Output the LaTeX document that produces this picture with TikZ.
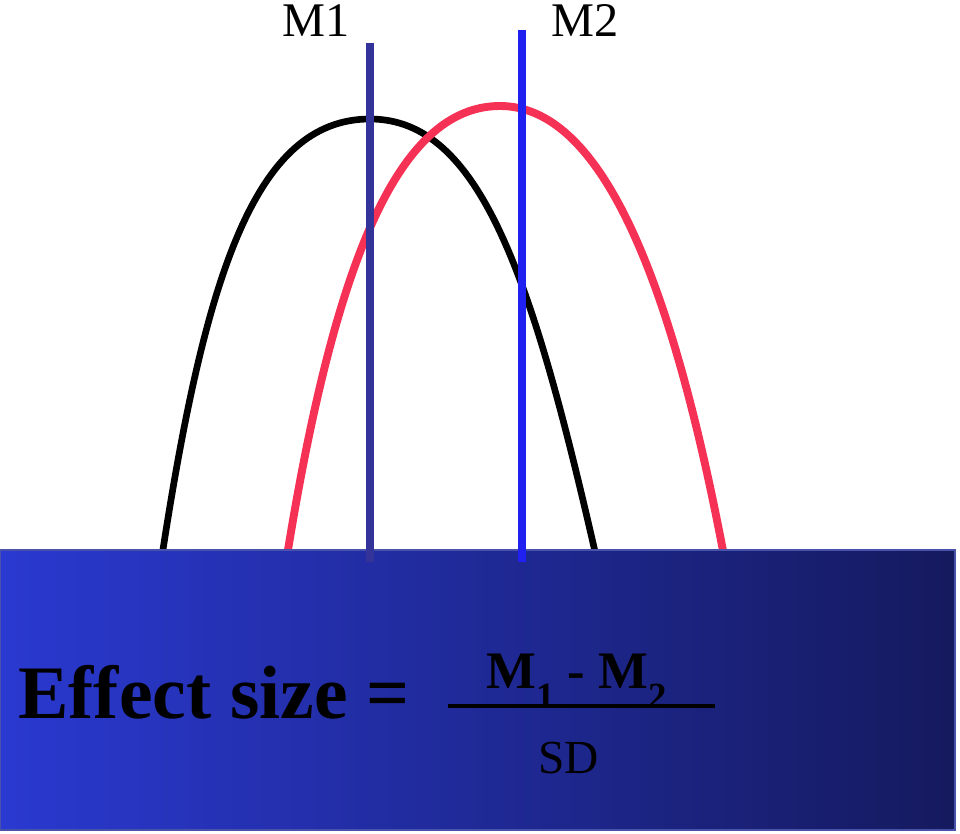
\documentclass[tikz,border=0pt]{standalone}
\usepackage{fontspec}
\setmainfont{Liberation Serif}
\usetikzlibrary{positioning}

\definecolor{meanone}{RGB}{51,51,153}
\definecolor{meantwo}{RGB}{32,32,240}
\definecolor{curvered}{RGB}{245,50,85}
\definecolor{boxleft}{RGB}{42,57,208}
\definecolor{boxmid}{RGB}{34,46,172}
\definecolor{boxright}{RGB}{21,26,94}
\definecolor{boxedge}{RGB}{72,82,170}

\tikzset{
    meanline/.style={line width=5pt},
    bellcurve/.style={line width=3.8pt, line join=round},
    label text/.style={inner sep=0pt, anchor=base west}
}

\begin{document}
\begin{tikzpicture}[x=0.02cm, y=-0.02cm]
    \useasboundingbox (0,0) rectangle (960,834);
    % the two distributions
    \coordinate(blackl) at (162,556);
    \coordinate(blackpeak) at (370,119);
    \coordinate(blackr) at (596,556);
    \coordinate(redl) at (287,556);
    \coordinate(redpeak) at (500,106);
    \coordinate(redr) at (724,556);
    \draw[bellcurve, black] (blackl) .. controls (205,276) and (255,119) .. (blackpeak)
        .. controls (480,119) and (532,276) .. (blackr);
    \draw[bellcurve, curvered, line width=4.5pt] (redl) .. controls (334,266) and (397,106) .. (redpeak)
        .. controls (598,106) and (669,266) .. (redr);
    % formula box
    \shade[left color=boxleft, middle color=boxmid, right color=boxright, draw=boxedge, line width=0.6pt] (0,550) rectangle (955,830);
    \begin{scope}[every node/.style={label text}]
        \node(m1) at (282,37) {\fontsize{27.5}{30}\selectfont M1};
        \node(m2) at (551,37) {\fontsize{27.5}{30}\selectfont M2};
        \node(effect) at (18,718) {\fontsize{43}{46}\selectfont\bfseries Effect size =};
        \node(num) at (486,688) {\fontsize{30}{32}\selectfont\bfseries M\raisebox{-11.5pt}{\fontsize{21}{22}\selectfont 1} - M\raisebox{-11.5pt}{\fontsize{21}{22}\selectfont 2}};
        \node(sd) at (538,773) {\fontsize{27}{30}\selectfont SD};
    \end{scope}
    \coordinate(m1top) at (370,43);
    \coordinate(m1bot) at (370,562);
    \coordinate(m2top) at (522,30);
    \coordinate(m2bot) at (522,562);
    \coordinate(barl) at (448,706);
    \coordinate(barr) at (715,706);
    \draw[meanline, meanone] (m1top) -- (m1bot);
    \draw[meanline, meantwo, line width=4.6pt] (m2top) -- (m2bot);
    \draw[line width=2.3pt] (barl) -- (barr);
\end{tikzpicture}
\end{document}
